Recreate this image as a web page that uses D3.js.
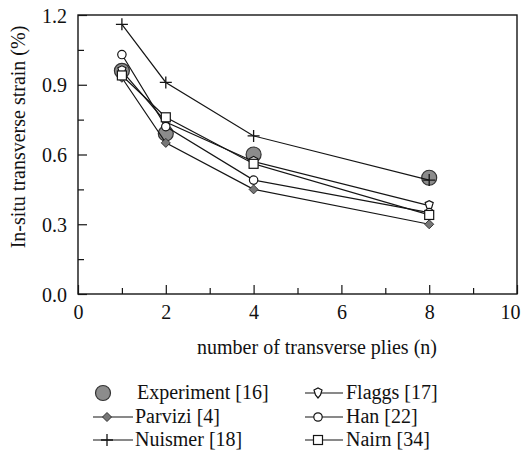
<!DOCTYPE html>
<html><head><meta charset="utf-8">
<script src="https://cdn.jsdelivr.net/npm/d3@7"></script>
<style>
body{margin:0;background:#fff;}
svg text{font-family:"Liberation Serif",Tinos,"Times New Roman",Times,"DejaVu Serif",serif !important;fill:#111;}
</style></head>
<body><svg id="c" width="523" height="454"></svg>
<script>
const plies = [1, 2, 4, 8];
const experiment = [0.96, 0.69, 0.60, 0.50];
const parvizi = [0.93, 0.65, 0.45, 0.30];
const nuismer = [1.16, 0.91, 0.68, 0.49];
const flaggs = [0.96, 0.74, 0.57, 0.38];
const han = [1.03, 0.72, 0.49, 0.35];
const nairn = [0.94, 0.76, 0.56, 0.34];
const xTicks = [0, 2, 4, 6, 8, 10];
const yTicks = [0.0, 0.3, 0.6, 0.9, 1.2];
const xLabel = "number of transverse plies (n)";
const yLabel = "In-situ transverse strain (%)";

const FONT = '"Liberation Serif", Tinos, "Times New Roman", Times, "DejaVu Serif", serif';
const svg = d3.select("#c");
const L = 78, R = 517, T = 15, B = 294;
const x = d3.scaleLinear().domain([0, 10]).range([L, R]);
const y = d3.scaleLinear().domain([0, 1.2]).range([B, T]);
const ink = "#151515";

// frame
svg.append("rect").attr("x", L).attr("y", T).attr("width", R - L).attr("height", B - T)
  .attr("fill", "none").attr("stroke", ink).attr("stroke-width", 1.4);

// x axis ticks (inward)
const xa = svg.append("g").attr("transform", `translate(0,${B})`)
  .call(d3.axisBottom(x).tickValues(xTicks).tickSize(-9).tickFormat(d3.format("d")));
xa.attr("font-family", FONT);
xa.select(".domain").remove();
xa.selectAll("line").attr("stroke", ink).attr("stroke-width", 1.2);
xa.selectAll("text").attr("font-size", 20).attr("y", 25).attr("dy", 0)
  .attr("fill", ink).attr("x", d => d === 10 ? -7 : 0);
const xm = svg.append("g").attr("transform", `translate(0,${B})`)
  .call(d3.axisBottom(x).tickValues([1, 3, 5, 7, 9]).tickSize(-6).tickFormat(""));
xm.select(".domain").remove();
xm.selectAll("line").attr("stroke", ink).attr("stroke-width", 1.2);

// y axis ticks (inward)
const ya = svg.append("g").attr("transform", `translate(${L},0)`)
  .call(d3.axisLeft(y).tickValues(yTicks).tickSize(-9).tickFormat(d3.format(".1f")));
ya.attr("font-family", FONT);
ya.select(".domain").remove();
ya.selectAll("line").attr("stroke", ink).attr("stroke-width", 1.2);
ya.selectAll("text").attr("font-size", 20).attr("x", -11).attr("dy", "0.35em").attr("fill", ink);
const ym = svg.append("g").attr("transform", `translate(${L},0)`)
  .call(d3.axisLeft(y).tickValues([0.15, 0.45, 0.75, 1.05]).tickSize(-6).tickFormat(""));
ym.select(".domain").remove();
ym.selectAll("line").attr("stroke", ink).attr("stroke-width", 1.2);

// axis labels
svg.append("text").attr("x", 317).attr("y", 354).attr("text-anchor", "middle")
  .attr("font-family", FONT).attr("font-size", 20).text(xLabel);
svg.append("text").attr("transform", "translate(25,137) rotate(-90)").attr("text-anchor", "middle")
  .attr("font-family", FONT).attr("font-size", 20).text(yLabel);

// marker drawers
function mk(g, type, cx, cy) {
  if (type === "exp") {
    g.append("circle").attr("cx", cx).attr("cy", cy).attr("r", 7.5)
      .attr("fill", "#8c8c8c").attr("stroke", "#333").attr("stroke-width", 1.2);
  } else if (type === "parvizi") {
    g.append("path").attr("d", `M${cx},${cy-4.5}L${cx+4.5},${cy}L${cx},${cy+4.5}L${cx-4.5},${cy}Z`)
      .attr("fill", "#777").attr("stroke", "#333").attr("stroke-width", 1);
  } else if (type === "nuismer") {
    g.append("path").attr("d", `M${cx-6},${cy}H${cx+6}M${cx},${cy-6}V${cy+6}`)
      .attr("stroke", ink).attr("stroke-width", 1.3).attr("fill", "none");
  } else if (type === "flaggs") {
    g.append("path").attr("d", `M${cx-4},${cy-3}L${cx},${cy-5}L${cx+4},${cy-3}L${cx+2.5},${cy+2}L${cx},${cy+5}L${cx-2.5},${cy+2}Z`)
      .attr("fill", "#fff").attr("stroke", ink).attr("stroke-width", 1.2);
  } else if (type === "han") {
    g.append("circle").attr("cx", cx).attr("cy", cy).attr("r", 4.2)
      .attr("fill", "#fff").attr("stroke", ink).attr("stroke-width", 1.2);
  } else if (type === "nairn") {
    g.append("rect").attr("x", cx - 4.5).attr("y", cy - 4.5).attr("width", 9).attr("height", 9)
      .attr("fill", "#fff").attr("stroke", ink).attr("stroke-width", 1.2);
  }
}

const line = d3.line().x((d, i) => x(plies[i])).y(d => y(d));
const plot = svg.append("g");
// experiment first (behind)
experiment.forEach((v, i) => mk(plot, "exp", x(plies[i]), y(v)));
const series = [
  {name: "parvizi", vals: parvizi},
  {name: "nuismer", vals: nuismer},
  {name: "flaggs", vals: flaggs},
  {name: "han", vals: han},
  {name: "nairn", vals: nairn}
];
series.forEach(s => {
  plot.append("path").attr("d", line(s.vals)).attr("fill", "none")
    .attr("stroke", ink).attr("stroke-width", 1.2);
});
series.forEach(s => {
  s.vals.forEach((v, i) => mk(plot, s.name, x(plies[i]), y(v)));
});

// legend
const legL = [
  {name: "exp", label: "Experiment [16]", y: 393},
  {name: "parvizi", label: "Parvizi [4]", y: 417},
  {name: "nuismer", label: "Nuismer [18]", y: 440}
];
const legR = [
  {name: "flaggs", label: "Flaggs [17]", y: 393},
  {name: "han", label: "Han [22]", y: 417},
  {name: "nairn", label: "Nairn [34]", y: 440}
];
const lg = svg.append("g").attr("font-family", FONT);
legL.forEach(d => {
  if (d.name === "exp") {
    mk(lg, "exp", 103, d.y);
  } else {
    lg.append("line").attr("x1", 93).attr("x2", 133).attr("y1", d.y).attr("y2", d.y)
      .attr("stroke", ink).attr("stroke-width", 1.2);
    mk(lg, d.name, 107, d.y);
  }
  lg.append("text").attr("x", d.name === "exp" ? 137 : 135).attr("y", d.y + 6)
    .attr("font-size", 20).text(d.label);
});
legR.forEach(d => {
  lg.append("line").attr("x1", 305).attr("x2", 343).attr("y1", d.y).attr("y2", d.y)
    .attr("stroke", ink).attr("stroke-width", 1.2);
  mk(lg, d.name, 318, d.y);
  lg.append("text").attr("x", 346).attr("y", d.y + 6).attr("font-size", 20).text(d.label);
});
</script></body></html>
